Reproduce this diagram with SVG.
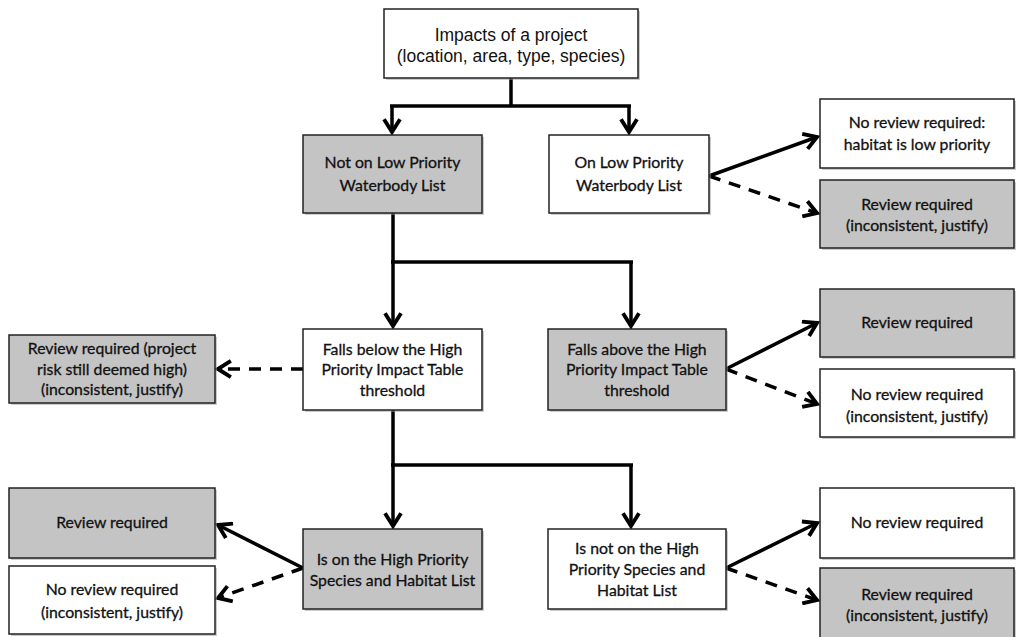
<svg xmlns="http://www.w3.org/2000/svg" width="1016" height="637" viewBox="0 0 1016 637">
<style>
.box{stroke:#222;stroke-width:1.5}
.w{fill:#fff}
.g{fill:#c4c4c4}
.sh{fill:#9a9a9a;opacity:0.5}
.t{font-family:Lato,"Liberation Sans",sans-serif;font-size:15.8px;fill:#111;stroke:#111;stroke-width:0.3;text-anchor:middle}
.ta{font-family:"Liberation Sans",Arial,sans-serif;font-size:17.5px;fill:#111;text-anchor:middle}
.c{fill:none;stroke:#000;stroke-width:3.5}
.d{stroke-dasharray:12,9}
</style>
<defs>
<marker id="ah" viewBox="0 0 12 12" refX="10" refY="6" markerWidth="5.5" markerHeight="5.5" markerUnits="strokeWidth" orient="auto">
<path d="M2,1 L10,6 L2,11" fill="none" stroke="#000" stroke-width="2.4"/>
</marker>
</defs>
<rect width="1016" height="637" fill="#fff"/>

<g id="connectors">
<path class="c" d="M511,78 V106"/>
<path class="c" d="M390,106 H631"/>
<path class="c" d="M392,106 V132" marker-end="url(#ah)"/>
<path class="c" d="M629,106 V132" marker-end="url(#ah)"/>
<path class="c" d="M709,176 L817,137" marker-end="url(#ah)"/>
<path class="c d" d="M709,176 L817,213" marker-end="url(#ah)"/>
<path class="c" d="M393,213 V262"/>
<path class="c" d="M391,262 H633"/>
<path class="c" d="M393,262 V326" marker-end="url(#ah)"/>
<path class="c" d="M631,262 V326" marker-end="url(#ah)"/>
<path class="c d" d="M303,369 H218" marker-end="url(#ah)"/>
<path class="c" d="M726,369 L817,323" marker-end="url(#ah)"/>
<path class="c d" d="M726,369 L817,404" marker-end="url(#ah)"/>
<path class="c" d="M393,410 V465"/>
<path class="c" d="M391,465 H633"/>
<path class="c" d="M393,465 V526" marker-end="url(#ah)"/>
<path class="c" d="M631,465 V526" marker-end="url(#ah)"/>
<path class="c" d="M303,568 L218,525" marker-end="url(#ah)"/>
<path class="c d" d="M303,568 L218,598" marker-end="url(#ah)"/>
<path class="c" d="M726,568 L817,523" marker-end="url(#ah)"/>
<path class="c d" d="M726,568 L817,600" marker-end="url(#ah)"/>
</g>

<g id="n-impacts">
<rect class="sh" x="386" y="11" width="254" height="69"/>
<rect class="box w" x="384" y="9" width="254" height="69"/>
<text class="ta" x="511" y="41">Impacts of a project</text>
<text class="ta" x="511" y="62">(location, area, type, species)</text>
</g>

<g id="n-notlow">
<rect class="sh" x="305" y="137" width="179" height="78"/>
<rect class="box g" x="303" y="135" width="179" height="78"/>
<text class="t" x="392.5" y="168">Not on Low Priority</text>
<text class="t" x="392.5" y="191">Waterbody List</text>
</g>

<g id="n-onlow">
<rect class="sh" x="551" y="137" width="160" height="78"/>
<rect class="box w" x="549" y="135" width="160" height="78"/>
<text class="t" x="629" y="168">On Low Priority</text>
<text class="t" x="629" y="191">Waterbody List</text>
</g>

<g id="n-noreview-low">
<rect class="sh" x="822" y="101" width="194" height="69"/>
<rect class="box w" x="820" y="99" width="194" height="69"/>
<text class="t" x="917" y="128">No review required:</text>
<text class="t" x="917" y="150">habitat is low priority</text>
</g>

<g id="n-review-low">
<rect class="sh" x="822" y="182" width="194" height="68"/>
<rect class="box g" x="820" y="180" width="194" height="68"/>
<text class="t" x="917" y="210">Review required</text>
<text class="t" x="917" y="231">(inconsistent, justify)</text>
</g>

<g id="n-below">
<rect class="sh" x="305" y="331" width="179" height="81"/>
<rect class="box w" x="303" y="329" width="179" height="81"/>
<text class="t" x="392.5" y="355">Falls below the High</text>
<text class="t" x="392.5" y="375">Priority Impact Table</text>
<text class="t" x="392.5" y="396">threshold</text>
</g>

<g id="n-above">
<rect class="sh" x="550" y="331" width="178" height="81"/>
<rect class="box g" x="548" y="329" width="178" height="81"/>
<text class="t" x="637" y="355">Falls above the High</text>
<text class="t" x="637" y="375">Priority Impact Table</text>
<text class="t" x="637" y="396">threshold</text>
</g>

<g id="n-review-below">
<rect class="sh" x="11" y="337" width="206" height="68"/>
<rect class="box g" x="9" y="335" width="206" height="68"/>
<text class="t" x="112" y="354">Review required  (project</text>
<text class="t" x="112" y="375">risk still deemed  high)</text>
<text class="t" x="112" y="395">(inconsistent, justify)</text>
</g>

<g id="n-review-above">
<rect class="sh" x="822" y="291" width="194" height="68"/>
<rect class="box g" x="820" y="289" width="194" height="68"/>
<text class="t" x="917" y="328">Review required</text>
</g>

<g id="n-noreview-above">
<rect class="sh" x="822" y="371" width="194" height="68"/>
<rect class="box w" x="820" y="369" width="194" height="68"/>
<text class="t" x="917" y="400">No review required</text>
<text class="t" x="917" y="422">(inconsistent, justify)</text>
</g>

<g id="n-onhigh">
<rect class="sh" x="305" y="531" width="179" height="80"/>
<rect class="box g" x="303" y="529" width="179" height="80"/>
<text class="t" x="392.5" y="565">Is on the High Priority</text>
<text class="t" x="392.5" y="586">Species and Habitat List</text>
</g>

<g id="n-notonhigh">
<rect class="sh" x="550" y="531" width="178" height="80"/>
<rect class="box w" x="548" y="529" width="178" height="80"/>
<text class="t" x="637" y="554">Is not on the High</text>
<text class="t" x="637" y="575">Priority Species and</text>
<text class="t" x="637" y="596">Habitat List</text>
</g>

<g id="n-review-onhigh">
<rect class="sh" x="11" y="490" width="206" height="70"/>
<rect class="box g" x="9" y="488" width="206" height="70"/>
<text class="t" x="112" y="528">Review required</text>
</g>

<g id="n-noreview-onhigh">
<rect class="sh" x="11" y="568" width="206" height="68"/>
<rect class="box w" x="9" y="566" width="206" height="68"/>
<text class="t" x="112" y="595">No review required</text>
<text class="t" x="112" y="618">(inconsistent, justify)</text>
</g>

<g id="n-noreview-nothigh">
<rect class="sh" x="822" y="490" width="194" height="70"/>
<rect class="box w" x="820" y="488" width="194" height="70"/>
<text class="t" x="917" y="528">No review required</text>
</g>

<g id="n-review-nothigh">
<rect class="sh" x="822" y="570" width="194" height="70"/>
<rect class="box g" x="820" y="568" width="194" height="72"/>
<text class="t" x="917" y="600">Review required</text>
<text class="t" x="917" y="621">(inconsistent, justify)</text>
</g>
</svg>
